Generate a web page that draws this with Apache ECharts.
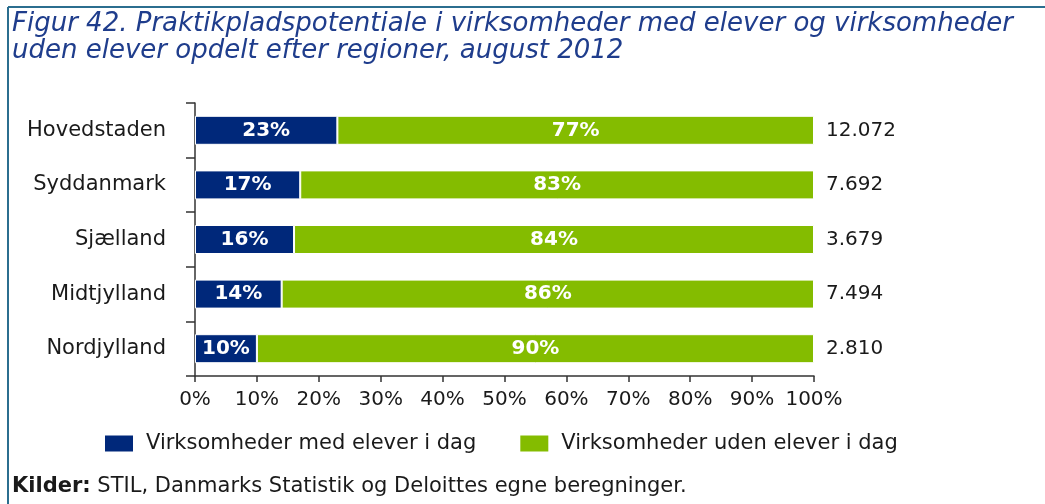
<!DOCTYPE html>
<html>
<head>
<meta charset="utf-8">
<script src="https://cdn.jsdelivr.net/npm/echarts@6/dist/echarts.min.js"></script>
<style>
html,body{margin:0;padding:0;background:#fff;}
#chart{width:1045px;height:504px;}
</style>
</head>
<body>
<div id="chart"></div>
<script>
var categories = ['Hovedstaden', 'Syddanmark', 'Sjælland', 'Midtjylland', 'Nordjylland'];
var withStudents = [23, 17, 16, 14, 10];
var withoutStudents = [77, 83, 84, 86, 90];
var totals = ['12.072', '7.692', '3.679', '7.494', '2.810'];
var xTicks = [0, 10, 20, 30, 40, 50, 60, 70, 80, 90, 100];
var seriesNames = ['Virksomheder med elever i dag', 'Virksomheder uden elever i dag'];

var FONT = 'DejaVu Sans';
var chart = echarts.init(document.getElementById('chart'));
var option = {
  backgroundColor: '#ffffff',
  animation: false,
  title: {
    text: 'Figur 42. Praktikpladspotentiale i virksomheder med elever og virksomheder\nuden elever opdelt efter regioner, august 2012',
    left: 12, top: 11, padding: 0,
    textStyle: { fontFamily: FONT, fontStyle: 'italic', fontWeight: 'normal', fontSize: 26, lineHeight: 27, color: '#1f3d8c' }
  },
  graphic: [
    { type: 'line', shape: { x1: 8, y1: 7, x2: 1045, y2: 7 }, style: { stroke: '#2b6e8f', lineWidth: 2 } },
    { type: 'line', shape: { x1: 8, y1: 7, x2: 8, y2: 504 }, style: { stroke: '#2b6e8f', lineWidth: 2 } },
    { type: 'text', left: 12, top: 476, style: { rich: { b: { fontFamily: FONT, fontSize: 21, fontWeight: 'bold', fill: '#1a1a1a' }, n: { fontFamily: FONT, fontSize: 21, fill: '#1a1a1a' } }, text: '{b|Kilder:}{n| STIL, Danmarks Statistik og Deloittes egne beregninger.}' } }
  ],
  legend: {
    left: 103, top: 433, padding: 0,
    itemWidth: 30, itemHeight: 18, itemGap: 42,
    icon: 'rect',
    textStyle: { fontFamily: FONT, fontSize: 21, color: '#1a1a1a', padding: [0, 0, 0, 7] },
    data: seriesNames
  },
  grid: { left: 195, right: 231, top: 103, bottom: 128, containLabel: false },
  xAxis: {
    type: 'value', min: 0, max: 100, interval: 10,
    axisLine: { show: true, lineStyle: { color: '#333333', width: 1.5 } },
    axisTick: { show: true, length: 6, lineStyle: { color: '#333333', width: 1.5 } },
    splitLine: { show: false },
    axisLabel: { margin: 14, fontFamily: FONT, fontSize: 20, color: '#1a1a1a', formatter: function (v) { return v + '%'; } }
  },
  yAxis: {
    type: 'category', data: categories, inverse: true,
    axisLine: { show: true, lineStyle: { color: '#333333', width: 1.5 } },
    axisTick: { show: true, length: 9, lineStyle: { color: '#333333', width: 1.5 } },
    axisLabel: { margin: 29, fontFamily: FONT, fontSize: 21, color: '#1a1a1a' }
  },
  series: [
    {
      name: seriesNames[0], type: 'bar', stack: 'total', data: withStudents, barWidth: 29,
      itemStyle: { color: '#00287a', borderColor: '#ffffff', borderWidth: 1 },
      label: { show: true, position: 'inside', fontFamily: FONT, fontSize: 20, fontWeight: 'bold', color: '#ffffff', formatter: '{c}%' }
    },
    {
      name: seriesNames[1], type: 'bar', stack: 'total', data: withoutStudents, barWidth: 29,
      itemStyle: { color: '#84bc00', borderColor: '#ffffff', borderWidth: 1 },
      label: { show: true, position: 'inside', fontFamily: FONT, fontSize: 20, fontWeight: 'bold', color: '#ffffff', formatter: '{c}%' }
    },
    {
      name: 'total', type: 'bar', stack: 'total', data: [0, 0, 0, 0, 0], barWidth: 29, silent: true,
      itemStyle: { color: 'transparent' },
      label: { show: true, position: 'right', distance: 12, fontFamily: FONT, fontSize: 20, color: '#1a1a1a',
        formatter: function (p) { return totals[p.dataIndex]; } }
    }
  ]
};
chart.setOption(option);
</script>
</body>
</html>
